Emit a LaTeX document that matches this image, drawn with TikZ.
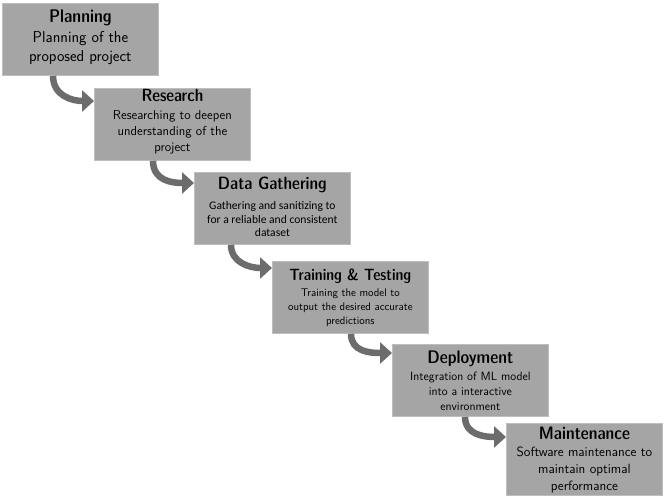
\documentclass[tikz,border=0pt]{standalone}
\usepackage{fontspec}
\usetikzlibrary{arrows.meta,calc}
\newfontfamily\ttlfont{Latin Modern Sans Demi Cond}
\newfontfamily\calfont{Carlito}
\definecolor{boxfill}{RGB}{165,165,165}
\definecolor{boxline}{RGB}{190,190,190}
\definecolor{arrcol}{RGB}{108,108,108}
\newcommand{\fs}[2]{\fontsize{#1}{#2}\selectfont\lineskiplimit=-20pt}
\begin{document}
\begin{tikzpicture}[x=1pt,y=-1pt,
  box/.style={draw=boxline, fill=boxfill, line width=0.8pt, minimum width=156pt, minimum height=72pt, anchor=north west, inner sep=0pt},
  txt/.style={anchor=base, align=center, inner sep=0pt, text=black},
  arr/.style={draw=arrcol, line width=6.5pt, -{Triangle[length=12pt,width=21pt]}}]
\useasboundingbox[fill=white] (0,0) rectangle (665,497);
% boxes
\node[box] (P) at (2,3) {};
\node[box] (R) at (94,88) {};
\node[box] (D) at (194,172) {};
\node[box] (T) at (272,261) {};
\node[box] (E) at (392,344) {};
\node[box] (M) at (506,423) {};
% texts (anchored at the baseline of the last line)
\node[txt, font=\sffamily\fs{15.8}{19}] (Pt) at ($(P.north)+(0,59)$)
  {{\ttlfont\fs{18.3}{20}Planning}\\[1pt]Planning of the\\proposed project};
\node[txt, font=\sffamily\fs{13}{16}] (Rt) at ($(R.north)+(0,64)$)
  {{\ttlfont\fs{17.6}{18}Research}\\[2pt]Researching to deepen\\understanding of the\\project};
\node[txt, font=\calfont\fs{11.6}{13.5}] (Dt) at ($(D.north)+(0,65)$)
  {{\ttlfont\fs{17.8}{17}Data Gathering}\\[6.5pt]Gathering and sanitizing to\\for a reliable and consistent\\dataset};
\node[txt, font=\sffamily\fs{11.1}{14.3}] (Tt) at ($(T.north)+(0,64)$)
  {{\ttlfont\fs{16.3}{18}Training \& Testing}\\[1.7pt]Training the model to\\output the desired accurate\\predictions};
\node[txt, font=\sffamily\fs{12}{15}] (Et) at ($(E.north)+(0,66.5)$)
  {{\ttlfont\fs{18.2}{19}Deployment}\\[2pt]Integration of ML model\\into a interactive\\environment};
\node[txt, font=\sffamily\fs{13.4}{16.7}] (Mt) at ($(M.north)+(0,67)$)
  {{\ttlfont\fs{18}{20}Maintenance}\\[0.7pt]Software maintenance to\\maintain optimal\\performance};
% arrow start points
\coordinate (s1) at ($(R.west)+(-41,0)$);
\coordinate (s2) at ($(D.west)+(-41,0)$);
\coordinate (s3) at ($(T.west)+(-41,0)$);
\coordinate (s4) at ($(E.west)+(-41,0)$);
\coordinate (s5) at ($(M.west)+(-41,0)$);
% arrows
\draw[arr] (s1 |- P.south) .. controls +(0,20) and +(-22,0) .. ([yshift=-13pt]R.north west);
\draw[arr] (s2 |- R.south) .. controls +(0,20) and +(-22,0) .. ([yshift=-11pt]D.north west);
\draw[arr] (s3 |- D.south) .. controls +(0,18) and +(-22,0) .. ([yshift=-7pt]T.north west);
\draw[arr] (s4 |- T.south) .. controls +(0,18) and +(-22,0) .. ([yshift=-9pt]E.north west);
\draw[arr] (s5 |- E.south) .. controls +(0,18) and +(-22,0) .. ([yshift=-14pt]M.north west);
\end{tikzpicture}
\end{document}
